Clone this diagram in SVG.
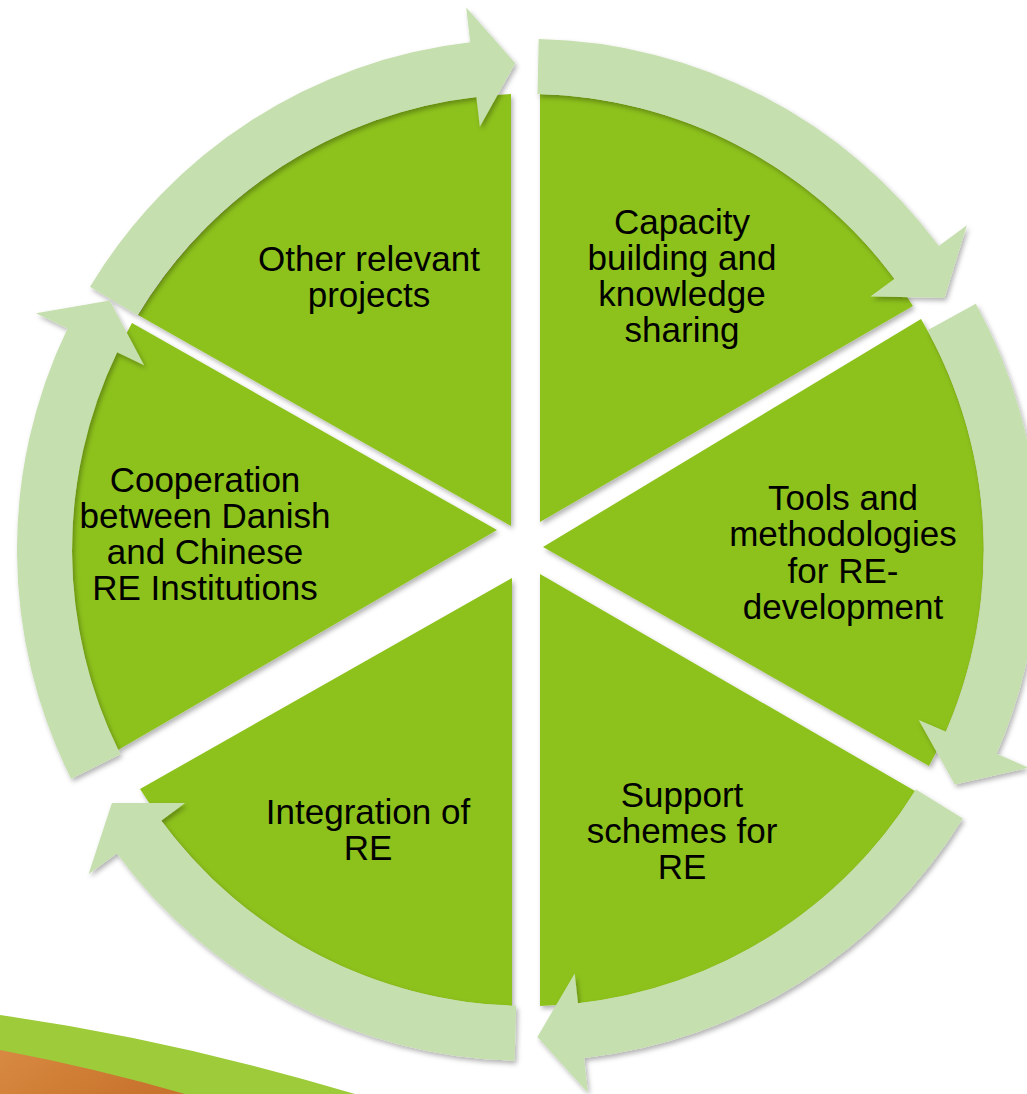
<svg xmlns="http://www.w3.org/2000/svg" width="1027" height="1094" viewBox="0 0 1027 1094">
<defs>
<style>
.slice{fill:#8DC21F;filter:url(#sh);}
.arrow{fill:#C6DFAE;filter:url(#sh2);}
.lbl{font-family:"Liberation Sans",Arial,sans-serif;font-size:35px;fill:#000;text-anchor:middle;}
</style>
<filter id="sh" x="-10%" y="-10%" width="120%" height="120%">
<feDropShadow dx="2" dy="3" stdDeviation="2.5" flood-color="#000" flood-opacity="0.3"/>
</filter>
<filter id="sh2" x="-10%" y="-10%" width="120%" height="120%">
<feDropShadow dx="2" dy="3" stdDeviation="2.5" flood-color="#000" flood-opacity="0.3"/>
</filter>
<linearGradient id="wood" x1="0" y1="0" x2="1" y2="0.3">
<stop offset="0" stop-color="#D88A42"/>
<stop offset="0.5" stop-color="#D07E36"/>
<stop offset="1" stop-color="#C8732E"/>
</linearGradient>
</defs>
<rect width="1027" height="1094" fill="#FFFFFF"/>
<g id="decoration">
<path d="M0,1015 Q175,1040 355,1094 L0,1094 Z" fill="#9DCB3A"/>
<path d="M0,1050 Q95,1068 185,1094 L0,1094 Z" fill="url(#wood)"/>
</g>
<g id="node-capacity">
<path class="slice" d="M540,522 L540,94 A456,456 0 0 1 913,306 Z"/>
<text class="lbl" x="682" y="234">Capacity</text>
<text class="lbl" x="682" y="270">building and</text>
<text class="lbl" x="682" y="306">knowledge</text>
<text class="lbl" x="682" y="342">sharing</text>
</g>
<g id="node-tools">
<path class="slice" d="M543,547 L921,319 A456,456 0 0 1 929,766 Z"/>
<text class="lbl" x="843" y="510">Tools and</text>
<text class="lbl" x="843" y="546">methodologies</text>
<text class="lbl" x="843" y="583">for RE-</text>
<text class="lbl" x="843" y="619">development</text>
</g>
<g id="node-support">
<path class="slice" d="M540,574 L915,791 A456,456 0 0 1 540,1006 Z"/>
<text class="lbl" x="682" y="807">Support</text>
<text class="lbl" x="682" y="843">schemes for</text>
<text class="lbl" x="682" y="879">RE</text>
</g>
<g id="node-integration">
<path class="slice" d="M512,578 L512,1006 A456,456 0 0 1 140,789 Z"/>
<text class="lbl" x="368" y="824">Integration of</text>
<text class="lbl" x="368" y="860">RE</text>
</g>
<g id="node-cooperation">
<path class="slice" d="M497,530 L118,750 A456,456 0 0 1 132,323 Z"/>
<text class="lbl" x="205" y="492">Cooperation</text>
<text class="lbl" x="205" y="528">between Danish</text>
<text class="lbl" x="205" y="564">and Chinese</text>
<text class="lbl" x="205" y="600">RE Institutions</text>
</g>
<g id="node-other">
<path class="slice" d="M511,526 L138,315 A456,456 0 0 1 511,94 Z"/>
<text class="lbl" x="369" y="271">Other relevant</text>
<text class="lbl" x="369" y="307">projects</text>
</g>
<g id="connectors">
<path class="arrow" d="M90.0,286.8 A511,511 0 0 1 470.2,42.3 L466.2,7.5 L515.3,63.2 L479.8,126.7 L476.4,96.9 A456,456 0 0 0 137.1,315.1 Z"/>
<path class="arrow" d="M538.7,39.1 A511,511 0 0 1 938.8,246.0 L966.9,225.2 L944.6,297.7 L870.4,296.6 L894.6,278.8 A456,456 0 0 0 537.5,94.1 Z"/>
<path class="arrow" d="M975.8,303.8 A511,511 0 0 1 996.6,753.8 L1028.7,767.7 L954.8,784.6 L918.7,719.9 L946.2,731.8 A456,456 0 0 0 927.6,330.3 Z"/>
<path class="arrow" d="M962.8,818.5 A511,511 0 0 1 584.1,1057.9 L587.9,1092.7 L537.4,1036.9 L574.7,973.4 L578.0,1003.2 A456,456 0 0 0 916.0,789.6 Z"/>
<path class="arrow" d="M514.6,1060.8 A511,511 0 0 1 116.8,853.4 L88.6,874.1 L111.9,803.1 L185.2,802.9 L161.1,820.7 A456,456 0 0 0 516.1,1005.8 Z"/>
<path class="arrow" d="M71.1,778.8 A511,511 0 0 1 67.5,328.4 L36.0,313.2 L109.7,300.6 L144.1,365.3 L117.1,352.3 A456,456 0 0 0 120.3,754.2 Z"/>
</g>
</svg>
